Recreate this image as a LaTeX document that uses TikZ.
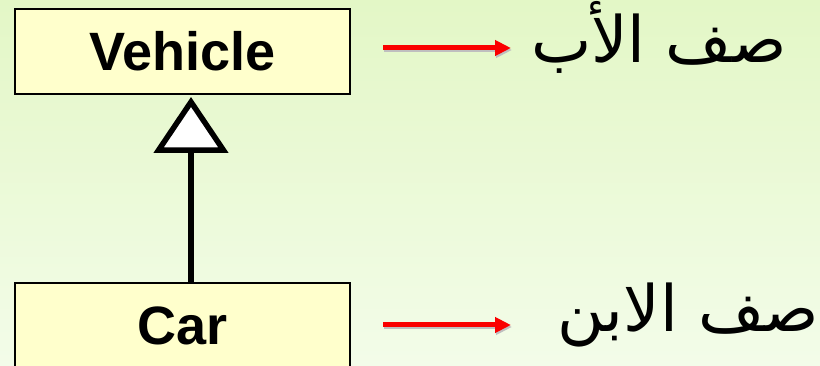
\documentclass[tikz,border=0pt]{standalone}
\usepackage{fontspec}
\setmainfont{Liberation Sans}
\newfontfamily\arabicfont[Script=Arabic]{DejaVu Sans}
\TeXXeTstate=1
\usetikzlibrary{arrows.meta,positioning}

\definecolor{bgtop}{RGB}{227,247,198}
\definecolor{bgbottom}{RGB}{243,252,233}
\definecolor{boxfill}{RGB}{255,255,204}
\definecolor{hintred}{RGB}{250,0,0}

\begin{document}
\begin{tikzpicture}[x=1pt,y=-1pt,node distance=187pt,
  class box/.style={draw,line width=2pt,fill=boxfill,minimum width=335pt,
    minimum height=85pt,inner sep=0pt,font=\fontsize{54}{60}\selectfont\bfseries},
  role text/.style={inner sep=0pt,font=\arabicfont\fontsize{64}{72}\selectfont},
  hint arrow/.style={line width=5pt,hintred,-{Triangle[length=16pt,width=15pt]},
    preaction={draw=black!25,line width=5pt,transform canvas={yshift=-2pt,xshift=1pt}}},
  inherit/.style={line width=5.5pt,shorten >=2pt,
    -{Triangle[open,fill=white,length=56pt,width=74pt]}}]
  % background
  \shade[top color=bgtop,bottom color=bgbottom] (0,0) rectangle (820,366);
  \useasboundingbox (0,0) rectangle (820,366);

  % the two classes
  \node[class box] (vehicle) at (182.5,51.5) {Vehicle};
  \node[class box] (car) [below=of vehicle] {Car};
  \draw[inherit] ([xshift=8.5pt]car.north) -- ([xshift=8.5pt]vehicle.south);

  % role labels
  \coordinate (ptail) at (383,48);
  \coordinate (phead) at (511,48);
  \coordinate (ctail) at (383,325);
  \coordinate (chead) at (511,325);
  \node[role text,anchor=base west] (parentlbl) at (531,63) {\beginR صف الأب\endR};
  \node[role text,anchor=base west] (childlbl) at (557,331) {\beginR صف الابن\endR};
  \draw[hint arrow] (ptail) -- (phead);
  \draw[hint arrow] (ctail) -- (chead);
\end{tikzpicture}
\end{document}
